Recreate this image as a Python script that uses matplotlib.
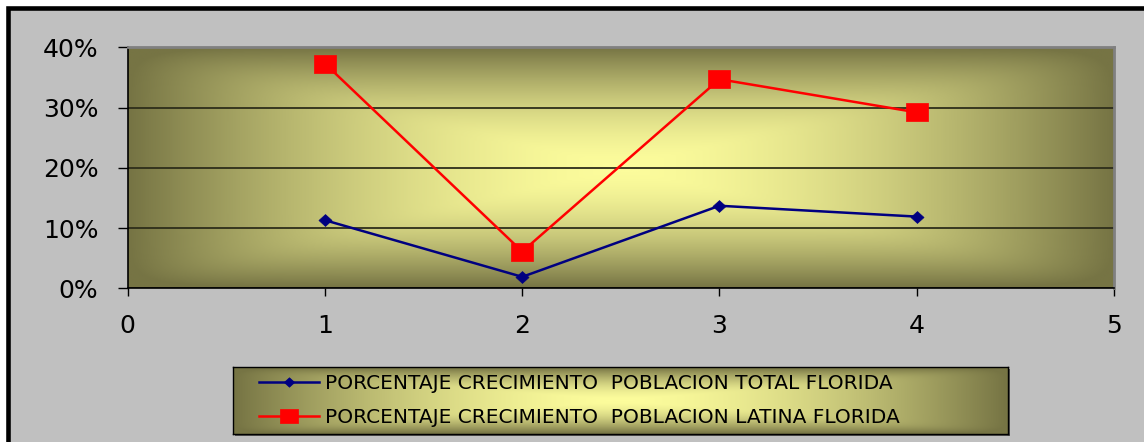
import numpy as np
import matplotlib
matplotlib.use("Agg")
import matplotlib.pyplot as plt
from matplotlib.colors import LinearSegmentedColormap
from matplotlib.patches import Rectangle
from matplotlib.ticker import PercentFormatter

plt.rcParams["font.family"] = ["DejaVu Sans"]

# data
x_vals = [1, 2, 3, 4]
total_florida = [0.113, 0.019, 0.137, 0.119]
latina_florida = [0.373, 0.061, 0.347, 0.292]
label_total = "PORCENTAJE CRECIMIENTO  POBLACION TOTAL FLORIDA"
label_latina = "PORCENTAJE CRECIMIENTO  POBLACION LATINA FLORIDA"
y_ticks = [0, 0.1, 0.2, 0.3, 0.4]
x_ticks = [0, 1, 2, 3, 4, 5]

W, H = 1144, 442
fig = plt.figure(figsize=(W / 100, H / 100), dpi=100, facecolor="white")

# grey chart background with thick black frame
fig.patches.append(Rectangle((7.5 / W, -0.1), 1.2, 1 - 7.5 / H + 0.1,
                             transform=fig.transFigure, facecolor="#C0C0C0",
                             edgecolor="black", linewidth=3.3, zorder=-2))

# "from center" gradient: pale yellow in the middle, olive at the edges
grad_cmap = LinearSegmentedColormap.from_list("olive", ["#FCFC9C", "#767444"])


def center_gradient(nx=400, ny=200):
    u = np.linspace(-1, 1, nx)
    v = np.linspace(-1, 1, ny)
    uu, vv = np.meshgrid(u, v)
    t = (np.abs(uu) ** 12 + np.abs(vv) ** 12) ** (1 / 12)
    return np.clip(t, 0, 1) ** 1.7


ax = fig.add_axes([127.7 / W, 1 - 288.3 / H, (1114 - 127.7) / W, (288.3 - 47.3) / H])
ax.imshow(center_gradient(), cmap=grad_cmap, vmin=0, vmax=1, extent=[0, 5, 0, 0.4],
          aspect="auto", zorder=0, interpolation="bilinear")

wide_square = [(-1.25, -1), (1.25, -1), (1.25, 1), (-1.25, 1), (-1.25, -1)]
wide_diamond = [(0, -1), (1.1, 0), (0, 1), (-1.1, 0), (0, -1)]

l1, = ax.plot(x_vals, total_florida, color="#000080", lw=1.8,
              marker=wide_diamond, markersize=9.4, markeredgewidth=0.5, zorder=3,
              label=label_total)
l2, = ax.plot(x_vals, latina_florida, color="#FF0000", lw=1.8,
              marker=wide_square, markersize=15.8, markeredgewidth=0.5, zorder=3,
              label=label_latina)

ax.set_xlim(0, 5)
ax.set_ylim(0, 0.4)
ax.set_xticks(x_ticks)
ax.set_yticks(y_ticks)
ax.yaxis.set_major_formatter(PercentFormatter(xmax=1, decimals=0))
ax.grid(axis="y", color="#2e2e1a", linewidth=1.3)
ax.tick_params(axis="y", direction="out", length=7.2, width=1, pad=14, labelsize=18)
ax.tick_params(axis="x", direction="out", length=5.8, width=1, pad=13, labelsize=18)
for side in ["left", "bottom"]:
    ax.spines[side].set_color("black")
    ax.spines[side].set_linewidth(1.2)
for side in ["top", "right"]:
    ax.spines[side].set_color("#808080")
    ax.spines[side].set_linewidth(2)

# legend box with the same gradient fill and a small shadow
lx0, lx1, ly0, ly1 = 233, 1008, 367, 434
fig.patches.append(Rectangle(((lx0 + 2) / W, 1 - (ly1 + 2) / H), (lx1 - lx0) / W,
                             (ly1 - ly0) / H, transform=fig.transFigure,
                             facecolor="#555555", edgecolor="none", zorder=-1))
lax = fig.add_axes([lx0 / W, 1 - ly1 / H, (lx1 - lx0) / W, (ly1 - ly0) / H])
lax.imshow(center_gradient(300, 60), cmap=grad_cmap, vmin=0, vmax=1,
           extent=[0, 1, 0, 1], aspect="auto", interpolation="bilinear")
lax.set_xticks([])
lax.set_yticks([])
for s in lax.spines.values():
    s.set_color("black")
    s.set_linewidth(1)
lax.legend(handles=[l1, l2], loc="center left", bbox_to_anchor=(0.02, 0.5),
           frameon=False, fontsize=14.5, handlelength=3.0, handletextpad=0.3,
           labelspacing=0.7, markerscale=0.8, borderpad=0)

fig.savefig("out.png", dpi=100, facecolor="white")
